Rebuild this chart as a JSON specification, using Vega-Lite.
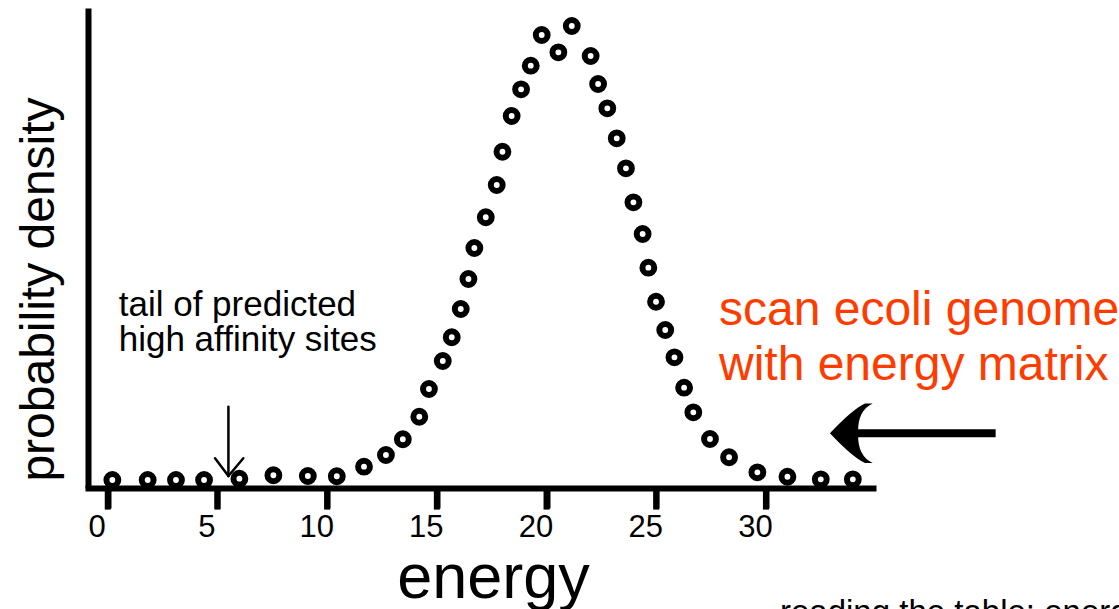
{
  "$schema": "https://vega.github.io/schema/vega-lite/v6.json",
  "autosize": {"type": "none"},
  "width": 785,
  "height": 480,
  "padding": {"left": 88, "top": 8, "right": 246, "bottom": 121},
  "background": "white",
  "config": {"view": {"stroke": null}, "font": "Liberation Sans"},
  "datasets": {
    "density": [
      {"energy": 0.21, "density": 0.00167},
      {"energy": 1.82, "density": 0.00167},
      {"energy": 3.11, "density": 0.00167},
      {"energy": 4.39, "density": 0.00167},
      {"energy": 6.00, "density": 0.00194},
      {"energy": 7.55, "density": 0.00265},
      {"energy": 9.12, "density": 0.0025},
      {"energy": 10.44, "density": 0.00244},
      {"energy": 11.68, "density": 0.00444},
      {"energy": 12.68, "density": 0.00688},
      {"energy": 13.45, "density": 0.01015},
      {"energy": 14.20, "density": 0.01485},
      {"energy": 14.64, "density": 0.02063},
      {"energy": 15.27, "density": 0.02646},
      {"energy": 15.68, "density": 0.0314},
      {"energy": 16.09, "density": 0.03729},
      {"energy": 16.44, "density": 0.04354},
      {"energy": 16.71, "density": 0.05},
      {"energy": 17.23, "density": 0.0564},
      {"energy": 17.73, "density": 0.06313},
      {"energy": 17.99, "density": 0.07006},
      {"energy": 18.41, "density": 0.0775},
      {"energy": 18.84, "density": 0.08306},
      {"energy": 19.28, "density": 0.08798},
      {"energy": 19.78, "density": 0.09438},
      {"energy": 20.54, "density": 0.09077},
      {"energy": 21.15, "density": 0.09625},
      {"energy": 22.01, "density": 0.09},
      {"energy": 22.35, "density": 0.08417},
      {"energy": 22.77, "density": 0.0791},
      {"energy": 23.20, "density": 0.07285},
      {"energy": 23.62, "density": 0.0666},
      {"energy": 23.96, "density": 0.05952},
      {"energy": 24.38, "density": 0.05292},
      {"energy": 24.64, "density": 0.0459},
      {"energy": 24.99, "density": 0.03881},
      {"energy": 25.41, "density": 0.03292},
      {"energy": 25.83, "density": 0.02723},
      {"energy": 26.27, "density": 0.0209},
      {"energy": 26.69, "density": 0.01577},
      {"energy": 27.45, "density": 0.01021},
      {"energy": 28.32, "density": 0.0064},
      {"energy": 29.61, "density": 0.00327},
      {"energy": 30.98, "density": 0.00235},
      {"energy": 32.50, "density": 0.00181},
      {"energy": 33.96, "density": 0.00181}
    ],
    "tickMarks": [
      {"energy": 0, "density": 0, "energy2": 0, "density2": -0.0045},
      {"energy": 5, "density": 0, "energy2": 5, "density2": -0.0045},
      {"energy": 10, "density": 0, "energy2": 10, "density2": -0.0045},
      {"energy": 15, "density": 0, "energy2": 15, "density2": -0.0045},
      {"energy": 20, "density": 0, "energy2": 20, "density2": -0.0045},
      {"energy": 25, "density": 0, "energy2": 25, "density2": -0.0045},
      {"energy": 30, "density": 0, "energy2": 30, "density2": -0.0045}
    ],
    "smallArrow": [
      {"energy": 5.50, "density": 0.01694, "energy2": 5.50, "density2": 0.0025},
      {"energy": 4.89, "density": 0.00619, "energy2": 5.50, "density2": 0.0025},
      {"energy": 6.18, "density": 0.00619, "energy2": 5.50, "density2": 0.0025}
    ],
    "bigShaft": [
      {"energy": 33.29, "density": 0.0114, "energy2": 40.47, "density2": 0.0114}
    ],
    "bigHead": [
      {"energy": 33.92, "density": 0.0114}
    ],
    "blackNote": [
      {"energy": 0.5, "density": 0.03583, "label": "tail of predicted"},
      {"energy": 0.5, "density": 0.0286, "label": "high affinity sites"}
    ],
    "redNote": [
      {"energy": 27.86, "density": 0.03396, "label": "scan ecoli genome"},
      {"energy": 27.86, "density": 0.0225, "label": "with energy matrix"}
    ],
    "bottomNote": [
      {"energy": 30.64, "density": -0.028125, "label": "reading the table: energy"}
    ]
  },
  "encoding": {
    "x": {
      "field": "energy", "type": "quantitative", "title": "energy",
      "scale": {"domain": [-0.9, 34.88], "nice": false, "zero": false},
      "axis": {
        "values": [0, 5, 10, 15, 20, 25, 30],
        "grid": false, "ticks": true,
        "domainColor": "black", "domainWidth": 6, "domainCap": "square",
        "tickColor": "black", "tickWidth": 6, "tickSize": 20, "tickOpacity": 1,
        "labelFontSize": 31, "labelFont": "Liberation Sans", "labelColor": "black",
        "labelPadding": 4, "labelOffset": -11, "labelFlush": false, "labelOverlap": false,
        "titleFontSize": 63, "titleFont": "Liberation Sans",
        "titleFontWeight": "normal", "titleColor": "black",
        "titleX": 405, "titleY": 109, "titleBaseline": "alphabetic", "titleAlign": "center"
      }
    },
    "y": {
      "field": "density", "type": "quantitative", "title": "probability density",
      "scale": {"domain": [0, 0.1], "nice": false, "zero": false},
      "axis": {
        "grid": false, "ticks": false, "labels": false,
        "domainColor": "black", "domainWidth": 6, "domainCap": "butt",
        "titleFontSize": 48, "titleFont": "Liberation Sans",
        "titleFontWeight": "normal", "titleColor": "black",
        "titleX": -35, "titleY": 281, "titleAngle": -90,
        "titleBaseline": "alphabetic", "titleAlign": "center"
      }
    }
  },
  "layer": [
    {
      "data": {"name": "density"},
      "mark": {"type": "point", "shape": "circle", "filled": false, "size": 140, "strokeWidth": 6, "color": "black", "opacity": 1}
    },
    {
      "data": {"name": "tickMarks"},
      "mark": {"type": "rule", "color": "black", "strokeWidth": 6},
      "encoding": {
        "x2": {"field": "energy2"},
        "y2": {"field": "density2"}
      }
    },
    {
      "data": {"name": "smallArrow"},
      "mark": {"type": "rule", "color": "black", "strokeWidth": 2.5, "strokeCap": "round"},
      "encoding": {
        "x2": {"field": "energy2"},
        "y2": {"field": "density2"}
      }
    },
    {
      "data": {"name": "bigShaft"},
      "mark": {"type": "rule", "color": "black", "strokeWidth": 8},
      "encoding": {
        "x2": {"field": "energy2"},
        "y2": {"field": "density2"}
      }
    },
    {
      "data": {"name": "bigHead"},
      "mark": {"type": "point", "filled": true, "color": "black", "opacity": 1, "size": 3844,
        "shape": "M -0.71 0 Q 0.025 -0.78 0.42 -0.96 L 0.67 -0.96 Q 0.185 -0.735 0.2 -0.05 L 0.2 0.05 Q 0.185 0.735 0.67 0.96 L 0.42 0.96 Q 0.025 0.78 -0.71 0 Z"}
    },
    {
      "data": {"name": "blackNote"},
      "mark": {"type": "text", "align": "left", "baseline": "alphabetic", "fontSize": 35, "font": "Liberation Sans", "color": "black"},
      "encoding": {"text": {"field": "label"}}
    },
    {
      "data": {"name": "redNote"},
      "mark": {"type": "text", "align": "left", "baseline": "alphabetic", "fontSize": 48, "font": "Liberation Sans", "color": "#ff3c00"},
      "encoding": {"text": {"field": "label"}}
    },
    {
      "data": {"name": "bottomNote"},
      "mark": {"type": "text", "align": "left", "baseline": "alphabetic", "fontSize": 33, "font": "Liberation Sans", "color": "black"},
      "encoding": {"text": {"field": "label"}}
    }
  ]
}
